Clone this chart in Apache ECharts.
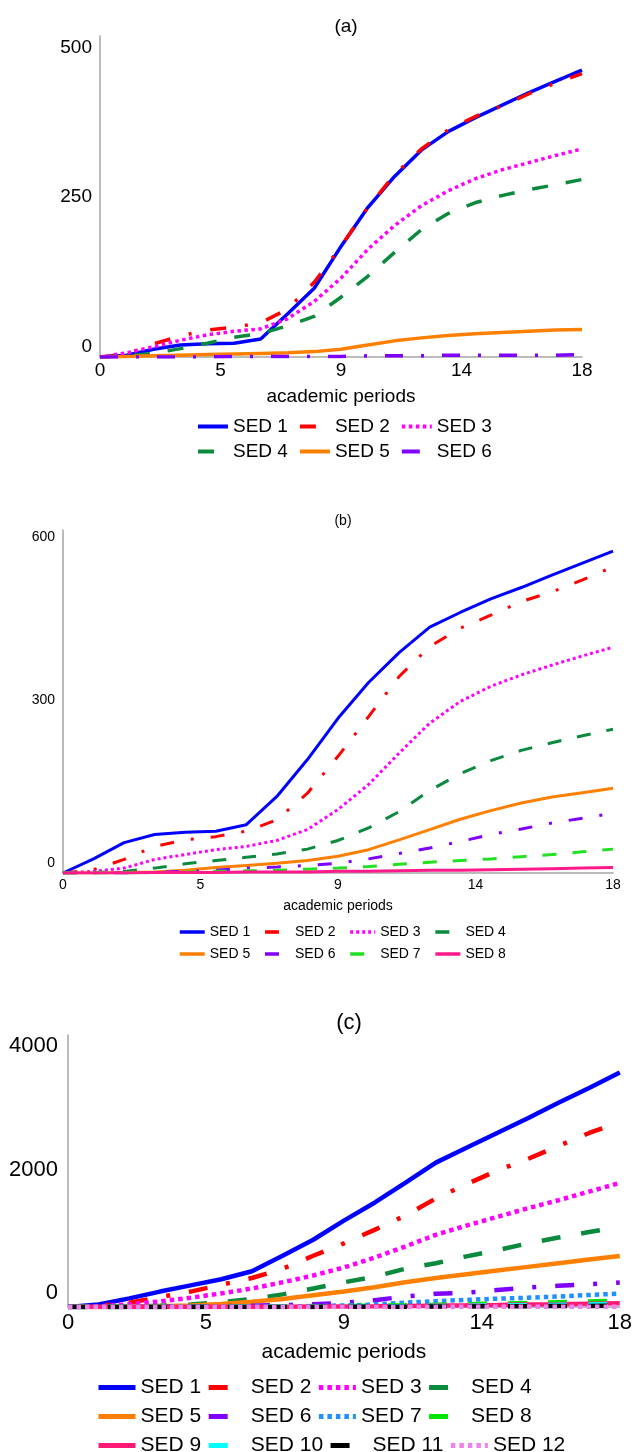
<!DOCTYPE html>
<html>
<head>
<meta charset="utf-8">
<script src="https://cdn.jsdelivr.net/npm/echarts@6/dist/echarts.min.js"></script>
<style>
    body{margin:0;background:#fff;}
    .panel{position:absolute;left:0;width:635px;}
</style>
</head>
<body>
<div id="chartA" class="panel" style="top:0;height:480px;"></div>
<div id="chartB" class="panel" style="top:480px;height:490px;"></div>
<div id="chartC" class="panel" style="top:970px;height:482px;"></div>
<script type="text/javascript">
    // academic periods (x values)
    var periods = [0,1,2,3,4,5,6,7,8,9,10,11,12,13,14,15,16,17,18];

    // panel (a)
    var aNames = ['SED 1','SED 2','SED 3','SED 4','SED 5','SED 6'];
    var aSed1 = [0,3,13,20,22,23,30,72,115,185,250,302,346,377,400,421,442,461,480];
    var aSed2 = [0,5,22,35,45,50,57,80,125,185,250,305,348,380,402,420,440,458,474];
    var aSed3 = [0,7,17,28,37,43,47,64,93,132,180,220,253,278,298,313,325,337,348];
    var aSed4 = [0,2,6,14,23,33,39,52,68,100,135,175,213,240,258,270,280,288,297];
    var aSed5 = [0,1,2,3,4,5,6,7,9,13,20,27,32,36,39,41,43,45,46];
    var aSed6 = [0,0,0,0,0,1,1,1,1,1,2,2,2,3,3,3,3,3,4];
    var aTicks = [0,250,500];

    // panel (b)
    var bNames = ['SED 1','SED 2','SED 3','SED 4','SED 5','SED 6','SED 7','SED 8'];
    var bSed1 = [0,26,56,71,75,77,89,141,209,285,351,406,453,480,505,526,549,571,593];
    var bSed2 = [0,6,25,49,61,67,77,98,147,215,288,362,417,451,475,500,518,540,564];
    var bSed3 = [0,3,9,25,34,43,49,60,80,117,163,221,276,316,344,365,383,400,416];
    var bSed4 = [0,1,3,9,17,23,29,35,44,60,83,113,152,183,207,226,240,253,265];
    var bSed5 = [0,0,1,2,5,10,14,18,23,31,43,61,80,99,115,129,140,148,156];
    var bSed6 = [0,0,0,1,3,5,9,11,14,18,26,36,46,58,71,81,92,101,110];
    var bSed7 = [0,0,0,1,2,3,4,5,7,9,12,16,20,23,26,30,34,39,44];
    var bSed8 = [0,0,0,1,1,1,2,2,2,3,3,4,5,5,6,7,8,9,10];
    var bTicks = [0,300,600];

    // panel (c)
    var cNames = ['SED 1','SED 2','SED 3','SED 4','SED 5','SED 6','SED 7','SED 8','SED 9','SED 10','SED 11','SED 12'];
    var cSed1 = [0,40,140,250,350,450,580,830,1090,1400,1690,2010,2340,2580,2820,3060,3310,3550,3800];
    var cSed2 = [0,20,70,160,250,360,470,620,830,1030,1250,1480,1760,1990,2210,2400,2610,2820,2990];
    var cSed3 = [0,10,45,90,150,220,300,400,510,640,800,980,1170,1320,1460,1600,1730,1870,2010];
    var cSed4 = [0,2,8,20,40,80,130,205,300,400,490,620,710,820,920,1030,1125,1215,1297];
    var cSed5 = [0,1,5,12,25,50,85,130,190,250,320,400,470,530,590,650,710,770,826];
    var cSed6 = [0,0,2,5,10,15,22,30,45,68,110,170,215,230,275,315,345,370,398];
    var cSed7 = [0,0,1,2,3,5,7,10,15,25,40,70,95,115,135,150,170,195,216];
    var cSed8 = [0,0,0,1,2,3,5,7,10,14,20,27,35,45,55,65,78,90,105];
    var cSed9 = [0,0,0,1,2,3,4,6,8,10,13,17,22,27,33,40,46,53,60];
    var cSed10 = [0,0,0,0,1,2,3,4,5,7,9,12,16,20,25,30,36,42,50];
    var cSed11 = [0,0,0,0,0,1,1,2,2,3,4,5,7,9,11,13,16,18,22];
    var cSed12 = [0,0,0,0,0,0,1,1,1,1,2,2,2,3,3,3,4,4,5];
    var cTicks = [0,2000,4000];

    var FONT = 'Liberation Sans, Arial, sans-serif';

    function pairs(vals){
        return periods.map(function(p, i){ return [p, vals[i]]; });
    }

    function makeSeries(names, lists, styles){
        return names.map(function(n, i){
            return {
                name: n,
                type: 'line',
                symbol: 'none',
                data: pairs(lists[i]),
                lineStyle: {
                    color: styles[i].color,
                    width: styles[i].width,
                    type: styles[i].type,
                    cap: 'butt'
                },
                itemStyle: {color: styles[i].color}
            };
        });
    }

    function makeOption(cfg){
        var legends = cfg.rows.map(function(row, r){
            return {
                data: row,
                left: cfg.legendLeft,
                top: cfg.legendTop[r],
                orient: 'horizontal',
                itemWidth: cfg.iconW,
                itemHeight: 12,
                itemGap: cfg.legendGap,
                itemStyle: {opacity: 0},
                lineStyle: {width: cfg.iconLine},
                textStyle: {fontFamily: FONT, fontSize: cfg.legendFont, color: '#000', width: cfg.textW}
            };
        });
        return {
            animation: false,
            title: {
                text: cfg.title,
                left: cfg.titleX,
                top: cfg.titleTop,
                textAlign: 'center',
                textStyle: {fontFamily: FONT, fontSize: cfg.titleFont, fontWeight: 'normal', color: '#000'}
            },
            legend: legends,
            grid: cfg.grid,
            xAxis: {
                type: 'value',
                min: 0, max: 18, interval: 4.5,
                name: 'academic periods',
                nameLocation: 'middle',
                nameGap: cfg.nameGap,
                nameTextStyle: {fontFamily: FONT, fontSize: cfg.nameFont, color: '#000', verticalAlign: 'middle'},
                axisLine: {lineStyle: {color: '#a6a6a6', width: 1.5}},
                axisTick: {show: false},
                splitLine: {show: false},
                axisLabel: {
                    fontFamily: FONT, fontSize: cfg.tickFont, color: '#000', margin: cfg.xMargin,
                    formatter: function(v){ return String(Math.round(v)); }
                }
            },
            yAxis: {
                type: 'value',
                min: 0, max: cfg.yMax, interval: cfg.yTicks[1] - cfg.yTicks[0],
                axisLine: {show: true, lineStyle: {color: '#a6a6a6', width: 1.5}},
                axisTick: {show: false},
                splitLine: {show: false},
                axisLabel: {
                    fontFamily: FONT, fontSize: cfg.tickFont, color: '#000', margin: cfg.yMargin,
                    verticalAlign: 'bottom', padding: [0, 0, cfg.yPad, 0],
                    showMaxLabel: false,
                    formatter: function(v){ return String(v); }
                }
            },
            series: makeSeries(cfg.names, cfg.lists, cfg.styles)
        };
    }

    var aChart = echarts.init(document.getElementById('chartA'));
    aChart.setOption(makeOption({
        title: '(a)', titleX: 341, titleTop: 12, titleFont: 19,
        grid: {left: 100, right: 53, top: 36, bottom: 123},
        yMax: 537, yTicks: aTicks, yMargin: 8, yPad: 1, xMargin: 4,
        tickFont: 19, nameFont: 19, nameGap: 40,
        rows: [['SED 1','SED 2','SED 3'],['SED 4','SED 5','SED 6']],
        legendLeft: 191, legendTop: [412, 437], legendFont: 19, iconW: 30, iconLine: 4, textW: 55, legendGap: 10,
        names: aNames,
        lists: [aSed1, aSed2, aSed3, aSed4, aSed5, aSed6],
        styles: [
            {color: '#0000ff', width: 3.5, type: 'solid'},
            {color: '#ff0000', width: 3.5, type: [16, 19, 3, 19]},
            {color: '#ff00ff', width: 3.5, type: [3.5, 3.5]},
            {color: '#0b8a3e', width: 3.5, type: [16, 18]},
            {color: '#ff8000', width: 3.5, type: 'solid'},
            {color: '#8000ff', width: 3.5, type: [18, 18, 3, 18]}
        ]
    }));

    var bChart = echarts.init(document.getElementById('chartB'));
    bChart.setOption(makeOption({
        title: '(b)', titleX: 338, titleTop: 29, titleFont: 14,
        grid: {left: 63, right: 22, top: 50, bottom: 97},
        yMax: 632, yTicks: bTicks, yMargin: 8, yPad: 3, xMargin: 5,
        tickFont: 14, nameFont: 14, nameGap: 33,
        rows: [['SED 1','SED 2','SED 3','SED 4'],['SED 5','SED 6','SED 7','SED 8']],
        legendLeft: 173, legendTop: [440, 462], legendFont: 14, iconW: 25, iconLine: 3.5, textW: 40, legendGap: 13,
        names: bNames,
        lists: [bSed1, bSed2, bSed3, bSed4, bSed5, bSed6, bSed7, bSed8],
        styles: [
            {color: '#0000ff', width: 3, type: 'solid'},
            {color: '#ff0000', width: 3, type: [14, 17, 3, 17]},
            {color: '#ff00ff', width: 3, type: [3, 3]},
            {color: '#0b8a3e', width: 3, type: [14, 16]},
            {color: '#ff8000', width: 3, type: 'solid'},
            {color: '#8000ff', width: 3, type: [14, 17, 3, 17]},
            {color: '#22e022', width: 3, type: [14, 16]},
            {color: '#ff1a8c', width: 3, type: 'solid'}
        ]
    }));

    var cChart = echarts.init(document.getElementById('chartC'));
    cChart.setOption(makeOption({
        title: '(c)', titleX: 344, titleTop: 37, titleFont: 22,
        grid: {left: 68, right: 15, top: 65, bottom: 145},
        yMax: 4408, yTicks: cTicks, yMargin: 10, yPad: 3, xMargin: 5,
        tickFont: 22, nameFont: 21, nameGap: 45,
        rows: [['SED 1','SED 2','SED 3','SED 4'],['SED 5','SED 6','SED 7','SED 8'],['SED 9','SED 10','SED 11','SED 12']],
        legendLeft: 91, legendTop: [402, 431, 460], legendFont: 21, iconW: 37, iconLine: 5, textW: 80, legendGap: 5,
        names: cNames,
        lists: [cSed1, cSed2, cSed3, cSed4, cSed5, cSed6, cSed7, cSed8, cSed9, cSed10, cSed11, cSed12],
        styles: [
            {color: '#0000ff', width: 4.5, type: 'solid'},
            {color: '#ff0000', width: 4.5, type: [19, 19, 4, 19]},
            {color: '#ff00ff', width: 4.5, type: [4.5, 4]},
            {color: '#0b8a3e', width: 4.5, type: [19, 21]},
            {color: '#ff8000', width: 4.5, type: 'solid'},
            {color: '#8000ff', width: 4.5, type: [19, 19, 4, 19]},
            {color: '#1e90ff', width: 4.5, type: [4.5, 4]},
            {color: '#00e600', width: 4.5, type: [19, 21]},
            {color: '#ff1a75', width: 4.5, type: 'solid'},
            {color: '#00ffff', width: 4.5, type: [19, 21]},
            {color: '#000000', width: 4.5, type: [19, 21]},
            {color: '#ee82ee', width: 4.5, type: [4.5, 4]}
        ]
    }));
</script>
</body>
</html>
